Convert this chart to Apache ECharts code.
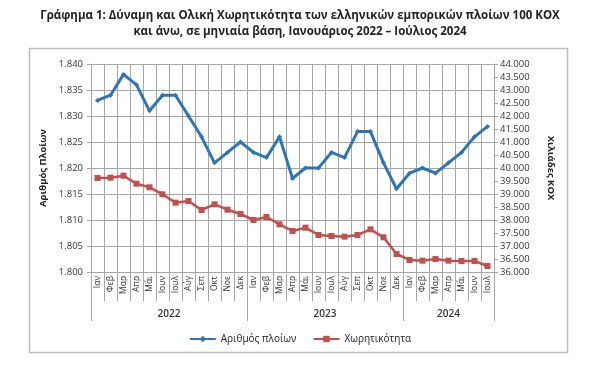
<!DOCTYPE html>
<html>
<head>
<meta charset="utf-8">
<script src="https://cdn.jsdelivr.net/npm/echarts@6/dist/echarts.min.js"></script>
<style>
    html, body { margin: 0; padding: 0; background: #fff; }
    #chart { width: 600px; height: 376px; }
</style>
</head>
<body>
<div id="chart"></div>
<script>
// Months Jan 2022 - Jul 2024
var months = [
    'Ιαν', 'Φεβ', 'Μαρ', 'Απρ', 'Μάι', 'Ιουν', 'Ιουλ', 'Αύγ', 'Σεπ', 'Οκτ', 'Νοε', 'Δεκ',
    'Ιαν', 'Φεβ', 'Μαρ', 'Απρ', 'Μάι', 'Ιουν', 'Ιουλ', 'Αύγ', 'Σεπ', 'Οκτ', 'Νοε', 'Δεκ',
    'Ιαν', 'Φεβ', 'Μαρ', 'Απρ', 'Μάι', 'Ιουν', 'Ιουλ'
];
var years = ['2022', '2023', '2024'];
var yearStarts = [0, 12, 24, 31];
var yearMiddles = [6, 18, 27.5];

// Number of ships (left axis)
var ships = [
    1833, 1834, 1838, 1836, 1831, 1834, 1834, 1830, 1826, 1821, 1823, 1825,
    1823, 1822, 1826, 1818, 1820, 1820, 1823, 1822, 1827, 1827, 1821, 1816,
    1819, 1820, 1819, 1821, 1823, 1826, 1828
];

// Gross tonnage, thousands GT (right axis)
var tonnage = [
    39615, 39627, 39704, 39396, 39258, 38988, 38666, 38731, 38385, 38603, 38396, 38231,
    38000, 38115, 37833, 37577, 37705, 37423, 37385, 37360, 37423, 37641, 37333, 36692,
    36462, 36436, 36500, 36436, 36423, 36423, 36231
];

var seriesNames = ['Αριθμός πλοίων', 'Χωρητικότητα'];

var fontFam = '"Open Sans", "Noto Sans", sans-serif';
var gridCol = '#a6a6a6';

function dotThousands(v) {
    return String(v).replace(/\B(?=(\d{3})+(?!\d))/g, '.');
}

var chart = echarts.init(document.getElementById('chart'));

var option = {
    animation: false,
    textStyle: { fontFamily: fontFam },
    title: {
        text: 'Γράφημα 1: Δύναμη και Ολική Χωρητικότητα των ελληνικών εμπορικών πλοίων 100 ΚΟΧ\nκαι άνω, σε μηνιαία βάση, Ιανουάριος 2022 – Ιούλιος 2024',
        left: 'center',
        top: 3,
        textStyle: {
            fontSize: 11.5,
            fontWeight: 'bold',
            color: '#222',
            lineHeight: 16,
            fontFamily: fontFam
        }
    },
    // chart area frame
    graphic: [{
        type: 'rect',
        left: 27,
        top: 46,
        shape: { width: 538, height: 304 },
        style: { fill: null, stroke: '#bdbdbd', lineWidth: 1.5 },
        silent: true
    }],
    legend: {
        bottom: 27,
        left: 'center',
        itemGap: 16,
        itemWidth: 26,
        itemHeight: 8,
        textStyle: { fontSize: 10, color: '#222', fontFamily: fontFam },
        data: seriesNames
    },
    grid: {
        left: 91,
        right: 106,
        top: 64,
        bottom: 104
    },
    xAxis: [
        {
            type: 'category',
            data: months,
            boundaryGap: true,
            axisLine: { lineStyle: { color: gridCol, width: 1 } },
            axisTick: { show: true, length: 29, interval: 0, lineStyle: { color: gridCol } },
            axisLabel: {
                interval: 0,
                rotate: 90,
                fontSize: 8.5,
                color: '#333',
                margin: 4
            },
            splitLine: { show: true, interval: 0, lineStyle: { color: gridCol, width: 1 } }
        },
        {
            type: 'value',
            position: 'bottom',
            offset: 29,
            min: 0,
            max: 31,
            axisLine: { show: false },
            axisTick: {
                show: true,
                length: 20,
                customValues: yearStarts,
                lineStyle: { color: gridCol }
            },
            axisLabel: {
                customValues: yearMiddles,
                fontSize: 10,
                fontWeight: 600,
                color: '#333',
                margin: 8,
                formatter: function (v) {
                    var i = yearMiddles.indexOf(v);
                    return i >= 0 ? years[i] : '';
                }
            },
            splitLine: { show: false }
        }
    ],
    yAxis: [
        {
            type: 'value',
            min: 1800,
            max: 1840,
            interval: 5,
            name: 'Αριθμός Πλοίων',
            nameLocation: 'middle',
            nameGap: 38,
            nameTextStyle: { fontSize: 9.5, fontWeight: 'bold', color: '#222' },
            axisLine: { show: true, lineStyle: { color: gridCol } },
            axisTick: { show: true, length: 4, lineStyle: { color: gridCol } },
            axisLabel: {
                fontSize: 9.5,
                color: '#333',
                margin: 8,
                formatter: function (v) { return dotThousands(v); }
            },
            splitLine: { show: true, lineStyle: { color: gridCol, width: 1 } }
        },
        {
            type: 'value',
            position: 'right',
            min: 36000,
            max: 44000,
            interval: 500,
            name: 'Χιλιάδες ΚΟΧ',
            nameLocation: 'middle',
            nameRotate: -90,
            nameGap: 52,
            nameTextStyle: { fontSize: 9.5, fontWeight: 'bold', color: '#222' },
            axisLine: { show: true, lineStyle: { color: gridCol } },
            axisTick: { show: true, length: 4, lineStyle: { color: gridCol } },
            axisLabel: {
                fontSize: 9.5,
                color: '#333',
                margin: 6,
                formatter: function (v) { return dotThousands(v); }
            },
            splitLine: { show: false }
        }
    ],
    series: [
        {
            name: seriesNames[0],
            type: 'line',
            yAxisIndex: 0,
            data: ships,
            symbol: 'diamond',
            symbolSize: 5,
            lineStyle: { color: '#2e75b6', width: 3 },
            itemStyle: { color: '#2e75b6' },
            z: 3
        },
        {
            name: seriesNames[1],
            type: 'line',
            yAxisIndex: 1,
            data: tonnage,
            symbol: 'rect',
            symbolSize: 6,
            lineStyle: { color: '#c0504d', width: 2.5 },
            itemStyle: { color: '#c0504d' },
            z: 2
        }
    ]
};

chart.setOption(option);
</script>
</body>
</html>
